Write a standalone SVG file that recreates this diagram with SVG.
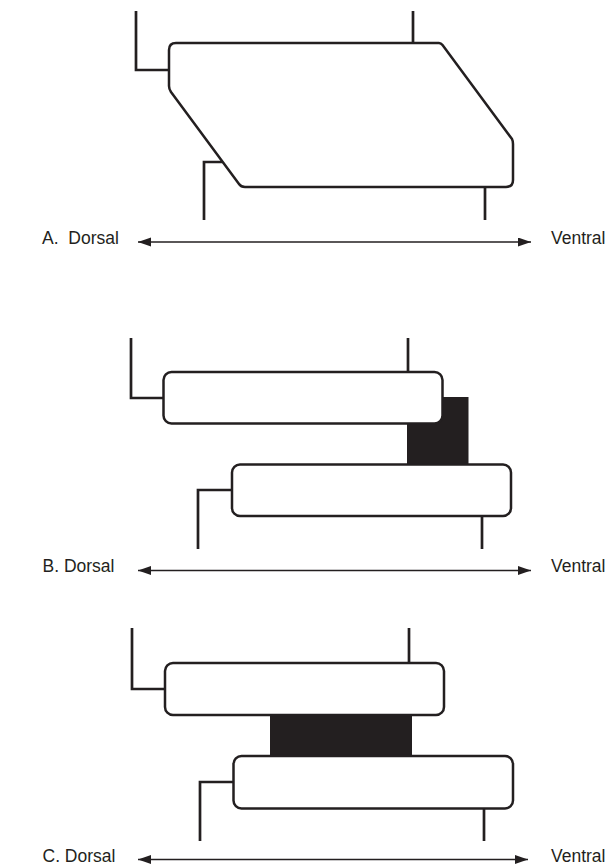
<svg xmlns="http://www.w3.org/2000/svg" width="609" height="866" viewBox="0 0 609 866">
<style>
.shape{fill:#fff;stroke:#231f20;stroke-width:2.5;stroke-linejoin:round}
.con{fill:none;stroke:#231f20;stroke-width:2.7}
.blk{fill:#231f20}
.axis{fill:none;stroke:#231f20;stroke-width:1.5}
.lbl{font-family:"Liberation Sans",Arial,sans-serif;font-size:17.5px;fill:#231f20;white-space:pre}
</style>
<defs>
<marker id="ah" markerUnits="userSpaceOnUse" markerWidth="15" markerHeight="11" refX="13" refY="4.5" orient="auto-start-reverse">
<path d="M0,0 L13,4.5 L0,9 Z" fill="#231f20"/>
</marker>
</defs>
<g id="connectors">
<path class="con" d="M136,11 V70 H169"/>
<path class="con" d="M413,11 V43"/>
<path class="con" d="M204,220 V162 H222.5"/>
<path class="con" d="M485,187 V220"/>
<path class="con" d="M131,338 V398 H163"/>
<path class="con" d="M408,338 V372"/>
<path class="con" d="M198,549 V490 H232"/>
<path class="con" d="M482,516 V549"/>
<path class="con" d="M132,628 V689 H165"/>
<path class="con" d="M409,628 V663"/>
<path class="con" d="M200,841 V782 H233"/>
<path class="con" d="M484,808 V841"/>
<path class="axis" d="M138,242 H531" marker-start="url(#ah)" marker-end="url(#ah)"/>
<path class="axis" d="M138,570.5 H531" marker-start="url(#ah)" marker-end="url(#ah)"/>
<path class="axis" d="M138,859.5 H528" marker-start="url(#ah)" marker-end="url(#ah)"/>
</g>
<g id="nodeA">
<path class="shape" d="M176,43 L439,43 Q441,43 442.5,45 L512,139 Q513,141 513,144 L513,180 Q513,187 506,187 L245,187 Q241,187 239,184 L171,92 Q169,89 169,86 L169,50 Q169,43 176,43 Z"/>
</g>
<g id="nodeB">
<rect class="blk" x="407" y="397" width="61.5" height="70"/>
<rect id="nodeB-top" class="shape" x="163.5" y="372" width="279" height="51.5" rx="8"/>
<rect id="nodeB-bottom" class="shape" x="232" y="464.5" width="279" height="51.5" rx="8"/>
</g>
<g id="nodeC">
<rect class="blk" x="270" y="714" width="142" height="43"/>
<rect id="nodeC-top" class="shape" x="165" y="663" width="279" height="52" rx="8"/>
<rect id="nodeC-bottom" class="shape" x="233.5" y="756" width="279.5" height="52.5" rx="8"/>
</g>
<g id="labels">
<text class="lbl" x="42" y="244" xml:space="preserve">A.  Dorsal</text>
<text class="lbl" x="551" y="244">Ventral</text>
<text class="lbl" x="42.5" y="572">B. Dorsal</text>
<text class="lbl" x="551" y="572">Ventral</text>
<text class="lbl" x="42.5" y="862">C. Dorsal</text>
<text class="lbl" x="551" y="862">Ventral</text>
</g>
</svg>
